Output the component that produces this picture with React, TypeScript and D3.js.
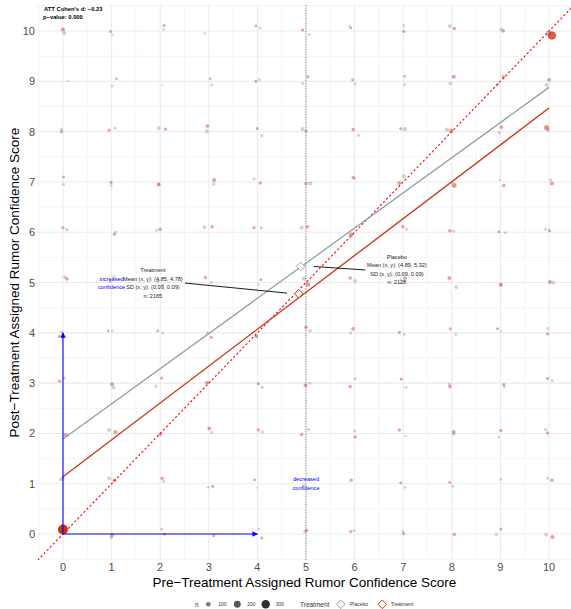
import React from 'react';
import * as d3 from 'd3';

// jittered points: [pre, post, n]
const placeboPts: [number, number, number][] = [
  [0.03, 9.96, 70], [1.02, 9.93, 30], [2.07, 10.03, 35], [2.92, 9.95, 35], [4.05, 10.06, 40], [5.07, 9.93, 40], [5.9, 10.1, 40], [7.01, 10.11, 40], [7.96, 10.1, 70], [9.02, 10.03, 70], [9.99, 9.95, 150],
  [0.11, 9.01, 30], [1.01, 8.91, 35], [2.04, 8.93, 20], [3.06, 8.93, 40], [4.04, 9.03, 40], [4.93, 8.96, 45], [6.01, 8.95, 40], [7.03, 8.94, 40], [7.97, 8.96, 65], [8.94, 8.94, 55], [9.95, 8.93, 70],
  [-0.03, 8.05, 50], [1.07, 8.07, 45], [1.97, 8.07, 65], [2.96, 8.01, 70], [4.09, 7.92, 50], [4.93, 8.05, 70], [6.08, 7.93, 55], [7.04, 8.05, 75], [7.9, 8.04, 75], [8.98, 7.98, 55], [9.98, 8.03, 60],
  [0.01, 6.95, 45], [0.99, 6.93, 40], [1.97, 6.95, 50], [3.1, 6.96, 55], [3.93, 7.06, 45], [5.09, 6.97, 75], [6.0, 7.07, 40], [7.01, 7.11, 75], [8.0, 6.99, 40], [8.99, 7.04, 35], [10.03, 7.04, 45],
  [0.08, 6.05, 55], [1.08, 6.0, 45], [1.93, 6.04, 45], [2.91, 6.1, 65], [4.08, 6.09, 55], [4.91, 6.09, 70], [7.07, 6.06, 45], [8.04, 6.02, 40], [9.1, 5.99, 40], [9.93, 6.06, 45],
  [0.04, 5.11, 60], [1.05, 5.11, 50], [2.05, 4.95, 35], [3.05, 5.0, 45], [4.02, 4.96, 30], [4.96, 5.08, 75], [6.01, 5.03, 70], [6.95, 5.07, 40], [8.09, 4.91, 65], [9.0, 4.97, 50], [10.09, 5.0, 60],
  [-0.03, 4.02, 45], [1.01, 4.04, 40], [2.05, 4.0, 40], [2.97, 4.0, 40], [3.98, 3.93, 40], [5.08, 4.04, 60], [5.92, 4.0, 45], [7.02, 3.97, 40], [8.08, 3.97, 45], [9.01, 4.03, 30], [9.98, 4.09, 40],
  [0.03, 3.1, 45], [1.04, 2.91, 60], [1.91, 2.94, 50], [2.95, 3.01, 65], [4.1, 2.92, 50], [5.08, 3.0, 50], [6.01, 3.09, 45], [7.06, 2.92, 40], [7.95, 2.98, 50], [9.08, 2.93, 40], [10.06, 3.05, 40],
  [0.1, 1.97, 55], [0.95, 2.07, 70], [1.99, 1.97, 40], [3.06, 2.02, 45], [4.1, 2.03, 45], [5.05, 2.08, 50], [6.0, 2.05, 45], [7.05, 1.95, 30], [8.04, 1.98, 45], [8.96, 1.93, 40], [9.93, 2.08, 45],
  [-0.04, 1.09, 65], [0.95, 1.11, 70], [2.07, 1.05, 50], [2.99, 0.93, 40], [4.0, 0.92, 20], [4.95, 0.97, 55], [7.04, 0.93, 40], [8.02, 0.95, 45], [9.01, 1.09, 40], [9.97, 1.11, 40],
  [-0.03, 0.08, 220], [0.99, -0.07, 60], [2.03, 0.1, 45], [4.03, 0.1, 40], [4.98, 0.05, 55], [5.99, 0.07, 40], [6.99, 0.05, 40], [8.92, -0.01, 50], [9.94, -0.01, 65],
];

const treatmentPts: [number, number, number][] = [
  [0.0, 10.03, 70], [0.98, 9.99, 40], [2.08, 10.11, 40], [3.97, 10.1, 35], [4.93, 10.02, 45], [5.92, 10.06, 35], [7.01, 9.99, 40], [8.05, 10.05, 55], [9.06, 10.0, 50], [10.06, 9.91, 280],
  [1.1, 9.05, 35], [3.03, 9.05, 35], [3.97, 9.0, 40], [5.04, 9.09, 40], [5.96, 9.03, 40], [7.03, 9.1, 35], [8.04, 9.09, 70], [9.06, 9.09, 60], [10.0, 9.03, 65],
  [-0.03, 8.0, 40], [0.95, 8.03, 45], [2.11, 8.05, 45], [2.97, 8.11, 60], [4.0, 8.06, 40], [5.0, 8.01, 40], [5.97, 8.04, 55], [6.95, 8.06, 45], [7.99, 8.02, 80], [9.02, 8.09, 55], [9.95, 8.08, 110],
  [0.01, 7.1, 40], [0.99, 6.99, 45], [1.97, 6.95, 60], [3.11, 7.04, 70], [4.06, 6.98, 50], [5.0, 6.97, 50], [5.97, 7.09, 55], [6.92, 6.98, 70], [8.05, 6.93, 100], [9.07, 6.93, 55], [10.06, 6.97, 70],
  [0.0, 6.09, 45], [1.06, 5.96, 45], [2.0, 6.06, 50], [3.07, 6.11, 50], [3.93, 6.09, 45], [5.03, 6.11, 55], [5.93, 5.95, 85], [6.99, 6.11, 55], [7.96, 6.03, 55], [8.97, 6.01, 40], [10.01, 6.03, 45],
  [0.08, 5.07, 55], [0.97, 5.02, 35], [1.95, 5.03, 45], [2.93, 5.1, 50], [4.07, 5.06, 45], [5.04, 4.96, 85], [5.91, 5.09, 55], [7.04, 5.09, 60], [7.95, 5.09, 70], [9.01, 4.95, 65], [10.02, 5.01, 65],
  [-0.08, 3.93, 40], [0.93, 4.04, 35], [1.95, 4.04, 40], [3.05, 3.91, 45], [3.98, 3.93, 40], [5.0, 4.11, 55], [5.97, 4.08, 60], [6.92, 4.01, 45], [7.97, 4.08, 45], [8.94, 4.08, 40], [9.97, 3.98, 45],
  [-0.07, 3.04, 45], [1.01, 2.98, 65], [2.03, 3.1, 45], [2.98, 3.01, 45], [4.02, 2.99, 45], [4.99, 2.96, 65], [5.91, 2.93, 50], [6.96, 3.08, 45], [7.96, 2.93, 55], [9.07, 2.97, 50], [9.97, 3.09, 45],
  [0.05, 1.97, 70], [1.08, 2.03, 70], [2.01, 1.99, 50], [3.01, 2.1, 65], [4.02, 2.07, 45], [4.91, 1.98, 55], [6.01, 1.93, 50], [6.92, 2.07, 50], [8.04, 2.03, 65], [9.01, 2.06, 45], [9.97, 2.01, 45],
  [0.0, 1.11, 45], [1.06, 1.07, 65], [2.04, 1.11, 50], [3.08, 0.95, 45], [3.94, 1.08, 40], [5.93, 1.07, 50], [6.95, 1.02, 40], [7.96, 1.03, 40], [10.06, 1.07, 50],
  [0.0, 0.09, 420], [1.01, -0.02, 75], [2.09, 0.0, 45], [3.1, -0.03, 45], [4.09, -0.08, 45], [5.01, 0.07, 50], [5.92, 0.05, 45], [7.01, 0.01, 45], [8.05, -0.01, 55], [9.01, 0.1, 40], [10.07, -0.06, 70],
];

// fitted lines [intercept, slope]
const placeboFit = [1.89, 0.699];
const treatmentFit = [1.14, 0.733];

const placeboMean = [4.89, 5.32];
const treatmentMean = [4.85, 4.78];

const placeboLabel = ['Placebo', 'Mean (x, y): (4.89, 5.32)', 'SD (x, y): (0.09, 0.09)', 'n: 2128'];
const treatmentLabel = ['Treatment', 'Mean (x, y): (4.85, 4.78)', 'SD (x, y): (0.09, 0.09)', 'n: 2165'];

const ticks = [0, 1, 2, 3, 4, 5, 6, 7, 8, 9, 10];
const sizeBreaks = [100, 200, 300];

const W = 571;
const H = 609;
const FONT = 'Liberation Sans, Arial, sans-serif';
const PLACEBO_COL = '#8fa1a9';
const TREAT_COL = '#cc3311';

const x = d3.scaleLinear().domain([-0.52, 10.52]).range([37.7, 574.3]);
const y = d3.scaleLinear().domain([-0.52, 10.52]).range([560.2, 4.9]);
const r = d3.scaleSqrt().domain([0, 300]).range([0, 4.2]);
const op = d3.scaleLinear().domain([0, 420]).range([0.35, 1]).clamp(true);

const diamond = (cx: number, cy: number, s: number) =>
  `M${cx},${cy - s}L${cx + s},${cy}L${cx},${cy + s}L${cx - s},${cy}Z`;

const App = () => {
  const [px0, px1] = x.range();
  const [py0, py1] = y.range();
  const fitLine = (f: number[]) =>
    d3.line<number>().x(d => x(d)).y(d => y(f[0] + f[1] * d))([0, 10]) as string;
  const minor = d3.range(-0.5, 11, 1);

  return (
    <svg width={W} height={H} style={{ position: 'absolute', left: 0, top: 0, background: '#fff' }} fontFamily={FONT}>
      <defs>
        <clipPath id="panel">
          <rect x={px0} y={py1} width={px1 - px0} height={py0 - py1} />
        </clipPath>
        <marker id="arrow" viewBox="0 0 10 10" refX="9" refY="5" markerWidth="5" markerHeight="5" orient="auto">
          <path d="M0,0L10,5L0,10Z" fill="#0000ff" />
        </marker>
      </defs>

      <g clipPath="url(#panel)">
        {minor.map(v => (
          <g key={'m' + v}>
            <line x1={x(v)} x2={x(v)} y1={py1} y2={py0} stroke="#ebebeb" strokeWidth={0.55} />
            <line x1={px0} x2={px1} y1={y(v)} y2={y(v)} stroke="#ebebeb" strokeWidth={0.55} />
          </g>
        ))}
        {ticks.map(v => (
          <g key={'g' + v}>
            <line x1={x(v)} x2={x(v)} y1={py1} y2={py0} stroke="#ebebeb" strokeWidth={1.07} />
            <line x1={px0} x2={px1} y1={y(v)} y2={y(v)} stroke="#ebebeb" strokeWidth={1.07} />
          </g>
        ))}

        {placeboPts.map((d, i) => (
          <circle key={'p' + i} cx={x(d[0])} cy={y(d[1])} r={r(d[2])} fill={PLACEBO_COL} fillOpacity={op(d[2])} />
        ))}
        {treatmentPts.map((d, i) => (
          <circle key={'t' + i} cx={x(d[0])} cy={y(d[1])} r={r(d[2])} fill={TREAT_COL} fillOpacity={op(d[2])} />
        ))}

        <line x1={x(5)} x2={x(5)} y1={py1} y2={py0} stroke="#555" strokeWidth={0.8} strokeDasharray="1,1.6" />
        <line x1={x(-0.52)} y1={y(-0.52)} x2={x(10.52)} y2={y(10.52)} stroke="#ff0000" strokeWidth={1.1} strokeDasharray="2.2,2.2" />

        <path d={fitLine(placeboFit)} stroke={PLACEBO_COL} strokeWidth={1.3} fill="none" />
        <path d={fitLine(treatmentFit)} stroke={TREAT_COL} strokeWidth={1.3} fill="none" />

        <line x1={x(0)} y1={y(0)} x2={x(0)} y2={y(4)} stroke="#0000ff" strokeWidth={1.1} markerEnd="url(#arrow)" />
        <line x1={x(0)} y1={y(0)} x2={x(4)} y2={y(0)} stroke="#0000ff" strokeWidth={1.1} markerEnd="url(#arrow)" />

        <line x1={x(2.51)} y1={y(4.99)} x2={x(4.61)} y2={y(4.79)} stroke="#000" strokeWidth={0.9} />
        <line x1={x(5.16)} y1={y(5.32)} x2={x(6.22)} y2={y(5.25)} stroke="#000" strokeWidth={0.9} />

        <path d={diamond(x(placeboMean[0]), y(placeboMean[1]), 4.3)} fill="#fff" stroke={PLACEBO_COL} strokeWidth={1} />
        <path d={diamond(x(treatmentMean[0]), y(treatmentMean[1]), 4.3)} fill="#fff" stroke={TREAT_COL} strokeWidth={1} />

        {treatmentLabel.map((t, i) => (
          <text key={'tl' + i} x={x(1.85)} y={y(4.99) + (i - 1.5) * 8.4} fontSize={5.6} textAnchor="middle" dominantBaseline="central" fill="#222">{t}</text>
        ))}
        {placeboLabel.map((t, i) => (
          <text key={'pl' + i} x={x(6.87)} y={y(5.26) + (i - 1.5) * 8.4} fontSize={5.6} textAnchor="middle" dominantBaseline="central" fill="#222">{t}</text>
        ))}

        <text x={x(1)} y={y(5) - 4} fontSize={5.6} textAnchor="middle" dominantBaseline="central" fill="#0000ff">increased</text>
        <text x={x(1)} y={y(5) + 4} fontSize={5.6} textAnchor="middle" dominantBaseline="central" fill="#0000ff">confidence</text>
        <text x={x(5)} y={y(1) - 4.3} fontSize={5.6} textAnchor="middle" dominantBaseline="central" fill="#0000ff">decreased</text>
        <text x={x(5)} y={y(1) + 4.3} fontSize={5.6} textAnchor="middle" dominantBaseline="central" fill="#0000ff">confidence</text>

        <text x={44} y={9} fontSize={5.8} fontWeight="bold" dominantBaseline="central" fill="#000">ATT Cohen's d: −0.23</text>
        <text x={43} y={16.7} fontSize={5.8} fontWeight="bold" dominantBaseline="central" fill="#000">p−value: 0.000</text>
      </g>

      {ticks.map(v => (
        <text key={'yt' + v} x={35} y={y(v)} fontSize={11} textAnchor="end" dominantBaseline="central" fill="#4d4d4d">{v}</text>
      ))}
      {ticks.map(v => (
        <text key={'xt' + v} x={x(v)} y={567} fontSize={11} textAnchor="middle" dominantBaseline="central" fill="#4d4d4d">{v}</text>
      ))}

      <text x={(px0 + 571) / 2} y={582} fontSize={13.5} textAnchor="middle" dominantBaseline="central" fill="#000">
        Pre−Treatment Assigned Rumor Confidence Score
      </text>
      <text transform={`translate(14,${(py0 + py1) / 2}) rotate(-90)`} fontSize={13.5} textAnchor="middle" dominantBaseline="central" fill="#000">
        Post−Treatment Assigned Rumor Confidence Score
      </text>

      <g fontSize={5} fill="#333">
        <text x={196.7} y={604.3} fontSize={6.5} textAnchor="middle" dominantBaseline="central">n</text>
        {sizeBreaks.map((b, i) => {
          const cx = [208.3, 237.3, 265.7][i];
          return (
            <g key={'sb' + b}>
              <circle cx={cx} cy={604.3} r={r(b)} fill="#000" fillOpacity={op(b)} />
              <text x={cx + 10} y={604.3} dominantBaseline="central">{b}</text>
            </g>
          );
        })}
        <text x={300} y={604.3} fontSize={6.5} dominantBaseline="central">Treatment</text>
        <path d={diamond(340.7, 604.3, 4.3)} fill="#fff" stroke={PLACEBO_COL} strokeWidth={1} />
        <text x={350} y={604.3} dominantBaseline="central">Placebo</text>
        <path d={diamond(382.3, 604.3, 4.3)} fill="#fff" stroke={TREAT_COL} strokeWidth={1} />
        <text x={390.7} y={604.3} dominantBaseline="central">Treatment</text>
      </g>
    </svg>
  );
};

export default App;
